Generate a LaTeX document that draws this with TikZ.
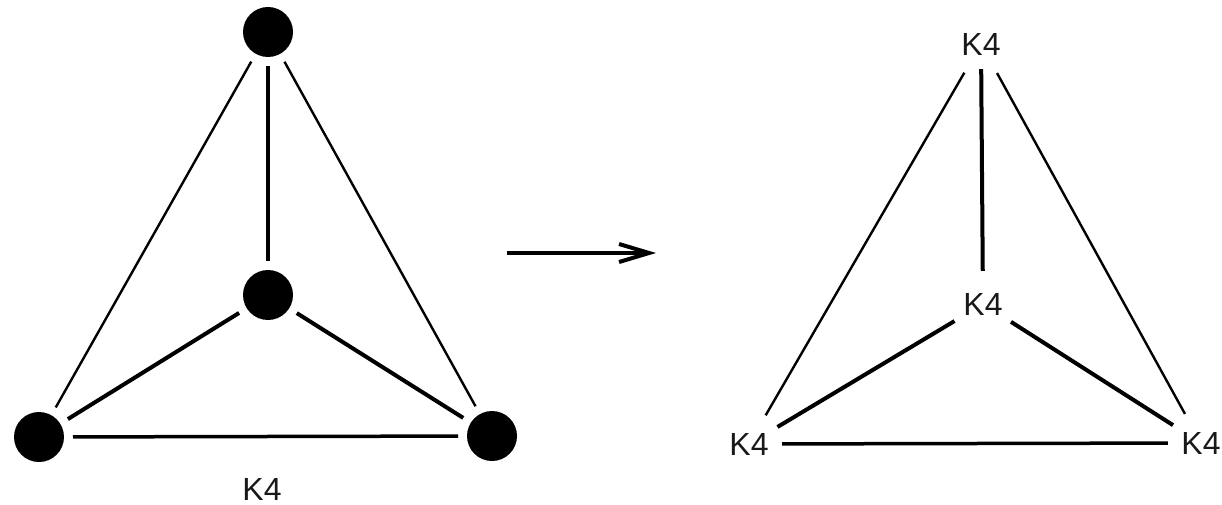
\documentclass[tikz,border=0pt]{standalone}
\usepackage{fontspec}
\setmainfont{Liberation Sans}
\usetikzlibrary{arrows.meta}
\begin{document}
\begin{tikzpicture}[x=1pt,y=-1pt,
  dot/.style={circle,fill=black,minimum size=50pt,inner sep=0pt,outer sep=0pt},
  labtext/.style={font=\fontsize{32}{32}\selectfont,text=black!90,inner sep=0pt},
  lab/.style={labtext,circle,minimum size=66pt},
  thinedge/.style={line width=2.4pt},
  thickedge/.style={line width=4pt},
  baseedge/.style={line width=3.5pt},
  gap/.style={shorten <=9pt,shorten >=9pt}
]
\useasboundingbox (0,0) rectangle (1222,505);

% left graph
\node[dot] (lt) at (268,32) {};
\node[dot] (lc) at (268,295) {};
\node[dot] (ll) at (39,437) {};
\node[dot] (lr) at (492,436) {};
\node[labtext] (lk) at (262,489) {K4};

\draw[thickedge,gap] (lt) -- (lc);
\draw[thinedge,gap] (lt) -- (ll);
\draw[thinedge,gap] (lt) -- (lr);
\draw[thickedge,gap] (lc) -- (ll);
\draw[thickedge,gap] (lc) -- (lr);
\draw[baseedge,gap] (ll) -- (lr);

% arrow
\coordinate (as) at (507,253);
\coordinate (ae) at (656,253);
\draw[line width=4pt,-{Straight Barb[length=30pt,width=18pt]}] (as) -- (ae);

% right graph
\node[lab] (rt) at (981,44) {K4};
\node[lab] (rc) at (983,304) {K4};
\node[lab] (rl) at (749,444) {K4};
\node[lab] (rr) at (1201,443) {K4};

\draw[thickedge,shorten <=-8pt] (rt) -- (rc);
\draw[thinedge] (rt) -- (rl);
\draw[thinedge] (rt) -- (rr);
\draw[thickedge] (rc) -- (rl);
\draw[thickedge] (rc) -- (rr);
\draw[baseedge] (rl) -- (rr);
\end{tikzpicture}
\end{document}
